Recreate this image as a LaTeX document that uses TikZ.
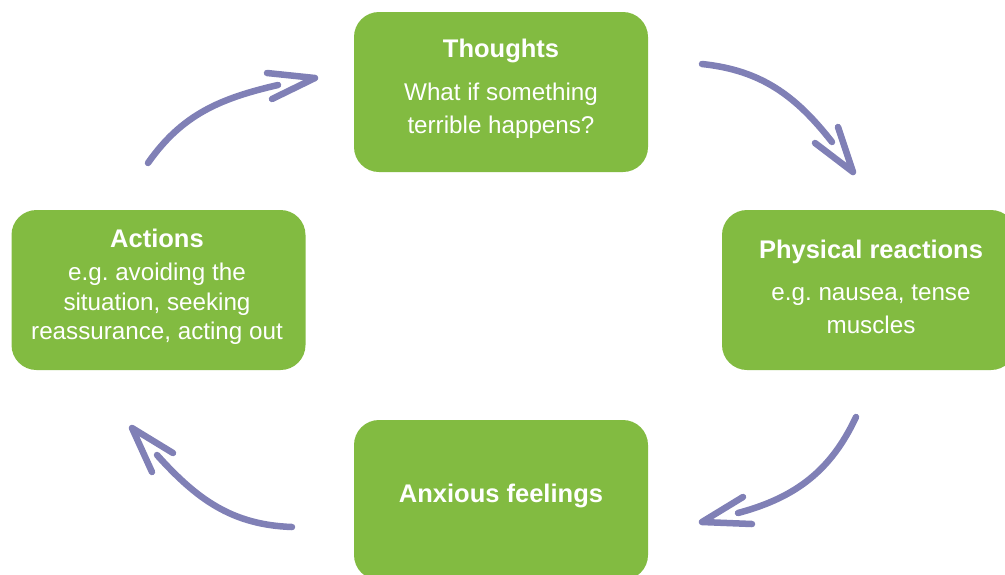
\documentclass[tikz,border=0pt]{standalone}
\usepackage{fontspec}
\setmainfont{Liberation Sans}
\definecolor{boxgreen}{RGB}{130,187,65}
\definecolor{arrowblue}{RGB}{128,128,182}
\begin{document}
\frenchspacing
\begin{tikzpicture}[x=1pt,y=1pt,
  box/.style={fill=boxgreen, rounded corners=25pt, minimum width=294pt, minimum height=160pt, inner sep=0pt},
  title/.style={text=white, anchor=base, inner sep=0pt, font=\fontsize{25.5}{28}\selectfont\bfseries},
  body/.style={text=white, anchor=base, inner sep=0pt, font=\fontsize{24.2}{28}\selectfont},
  arrowline/.style={draw=arrowblue, line width=6.5pt, line cap=round, line join=round}]
\useasboundingbox (0,0) rectangle (1005,-574);
\clip (0,0) rectangle (1005,-574);

% boxes
\node[box] (thoughts) at (501,-92) {};
\node[box] (actions) at (158.5,-290) {};
\node[box] (physical) at (869,-290) {};
\node[box] (anxious) at (501,-500) {};

% texts
\node[title] (t1) at (501,-57) {Thoughts};
\node[body] (t2) at (501,-100) {What if something};
\node[body] (t3) at (501,-133) {terrible happens?};

\node[title] (a1) at (157,-247) {Actions};
\node[body] (a2) at (157,-280) {e.g. avoiding the};
\node[body] (a3) at (157,-310) {situation, seeking};
\node[body] (a4) at (157,-339) {reassurance, acting out};

\node[title] (p1) at (871,-258) {Physical reactions};
\node[body] (p2) at (871,-300) {e.g. nausea, tense};
\node[body] (p3) at (871,-333) {muscles};

\node[title] (f1) at (501,-502) {Anxious feelings};

% arrow 1: actions -> thoughts
\coordinate (s1) at (148,-163);
\coordinate (e1) at (278,-85);
\coordinate (h1) at (315,-78);
\coordinate (b1a) at (267,-73);
\coordinate (b1b) at (272,-99);
\draw[arrowline] (s1) to[out=55,in=193] (e1);
\draw[arrowline] (b1a) -- (h1) -- (b1b);

% arrow 2: thoughts -> physical
\coordinate (s2) at (702,-64);
\coordinate (e2) at (832,-142);
\coordinate (h2) at (853,-172);
\coordinate (b2a) at (815,-143);
\coordinate (b2b) at (838,-127);
\draw[arrowline] (s2) to[out=-6,in=128] (e2);
\draw[arrowline] (b2a) -- (h2) -- (b2b);

% arrow 3: physical -> anxious
\coordinate (s3) at (856,-417);
\coordinate (e3) at (738,-513);
\coordinate (h3) at (702,-522);
\coordinate (b3a) at (743,-497);
\coordinate (b3b) at (752,-524);
\draw[arrowline] (s3) to[out=-115,in=15] (e3);
\draw[arrowline] (b3a) -- (h3) -- (b3b);

% arrow 4: anxious -> actions
\coordinate (s4) at (292,-527);
\coordinate (e4) at (157,-455);
\coordinate (h4) at (132,-428);
\coordinate (b4a) at (173,-453);
\coordinate (b4b) at (152,-472);
\draw[arrowline] (s4) to[out=178,in=-48] (e4);
\draw[arrowline] (b4a) -- (h4) -- (b4b);
\end{tikzpicture}
\end{document}
